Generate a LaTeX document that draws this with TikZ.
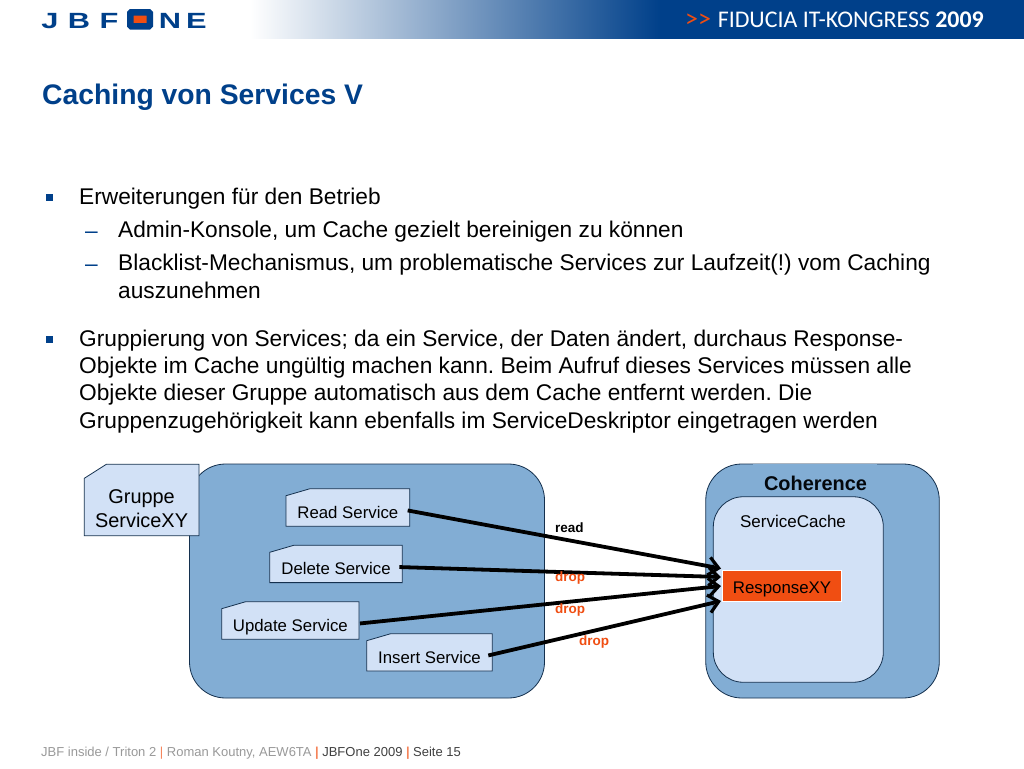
\documentclass[tikz,border=0pt]{standalone}
\usepackage{fontspec}
\setmainfont{Liberation Sans}
\newfontfamily\headfont{Carlito}
\newfontfamily\logofont[FakeStretch=1.4]{Liberation Sans}
\usetikzlibrary{arrows.meta}
\definecolor{jbfblue}{HTML}{00408A}
\definecolor{areablue}{HTML}{82ADD4}
\definecolor{paleblue}{HTML}{D2E1F6}
\definecolor{edgeblue}{HTML}{14304E}
\definecolor{jbforange}{HTML}{F04E12}
\pgfdeclarehorizontalshading{bandshade}{100bp}{color(0bp)=(white); color(25bp)=(white); color(51.5bp)=(jbfblue); color(100bp)=(jbfblue)}
\tikzset{
    servicebox/.style={draw=edgeblue, line width=0.8pt, fill=paleblue},
    service/.style={anchor=north, inner sep=0pt, outer sep=0pt, text height=29.5pt, text depth=8pt,
        font=\fontsize{16.8}{20}\selectfont},
    area/.style={rectangle, draw=edgeblue, line width=0.8pt, rounded corners=36pt, fill=areablue},
    callarrow/.style={line width=3.8pt, -{Straight Barb[length=10pt,width=18pt,line width=3.2pt]}},
    body/.style={anchor=north west, align=left, inner sep=0pt, font=\fontsize{22.7}{27.4}\selectfont},
    dashmark/.style={anchor=base west, inner sep=0pt, text=jbfblue, font=\fontsize{22.7}{27.4}\selectfont},
    label/.style={anchor=base west, font=\fontsize{13.5}{16}\selectfont\bfseries, inner sep=0pt},
    foot/.style={anchor=base west, inner sep=0pt, font=\fontsize{13}{16}\selectfont}
}
\newcommand{\footbar}{\kern3.5pt\textcolor{jbforange!70}{\textbf{|}}\kern3.5pt}
\frenchspacing
\begin{document}
\begin{tikzpicture}[x=1pt, y=-1pt]
    \useasboundingbox (0,0) rectangle (1024,768);
    \fill[white] (0,0) rectangle (1024,768);

    % Header band
    \shade[shading=bandshade] (250,0) rectangle (1024,38.5);
    \node[font=\headfont\fontsize{26}{28}\selectfont, text=jbforange, anchor=base west, inner sep=0pt] (headmark) at (685,28) {>>};
    \node[font=\headfont\fontsize{23.9}{28}\selectfont, text=white, anchor=base east, inner sep=0pt] (headtext) at (984,28) {FIDUCIA IT-KONGRESS \textbf{2009}};

    % Logo
    \foreach \c/\x in {J/50,B/79,F/109,N/170,E/196.5} {
        \node[font=\logofont\fontsize{22}{24}\selectfont\bfseries, text=jbfblue, inner sep=0pt, anchor=base] (logo\c) at (\x,29) {\c};
    }
    \node[draw=jbfblue, line width=6.5pt, rounded corners=1pt, fill=jbforange, minimum width=19.5pt, minimum height=14pt, inner sep=0pt] (logoO) at (140,19.3) {};

    % Title
    \node[anchor=base west, inner sep=0pt, text=jbfblue, font=\fontsize{28.3}{30}\selectfont\bfseries] (title) at (42,104) {Caching von Services V};

    % Bullets
    \foreach \y in {197,339} {
        \fill[jbfblue] (46,\y-3.5) rectangle (53,\y+3.5);
    }
    \node[dashmark] (dasha) at (85,238) {–};
    \node[dashmark] (dashb) at (85,271) {–};

    % Text
    \node[body] (first) at (79,188) {Erweiterungen für den Betrieb};
    \node[body] (second) at (118,221) {Admin-Konsole, um Cache gezielt bereinigen zu können};
    \node[body] (third) at (118,254) {Blacklist-Mechanismus, um problematische Services zur Laufzeit(!) vom Caching\\auszunehmen};
    \node[body] (fourth) at (79,329.5) {Gruppierung von Services; da ein Service, der Daten ändert, durchaus Response-\\Objekte im Cache ungültig machen kann. Beim Aufruf dieses Services müssen alle\\Objekte dieser Gruppe automatisch aus dem Cache entfernt werden. Die\\Gruppenzugehörigkeit kann ebenfalls im ServiceDeskriptor eingetragen werden};

    % Areas
    \node[area, minimum width=355pt, minimum height=234pt] (servicearea) at (367,581) {};
    \node[area, minimum width=233.5pt, minimum height=234pt] (coherence) at (822.5,581) {};
    \node[fill=areablue, minimum width=124pt, minimum height=30pt, inner sep=0pt] (coherencelabel) at (815,479) {};
    \node[font=\fontsize{19.9}{22}\selectfont\bfseries, text=black!85!edgeblue, inner sep=0pt] (coherencetext) at (815.5,483) {Coherence};
    \node[area, fill=paleblue, rounded corners=30pt, minimum width=170pt, minimum height=185.5pt] (cache) at (798.3,589.5) {};
    \node[font=\fontsize{17}{19}\selectfont, inner sep=0pt] (cachetext) at (793,521) {ServiceCache};
    \node[fill=jbforange, draw=white, line width=0.8pt, minimum width=119.5pt, text height=23pt, text depth=8pt, inner sep=0pt, font=\fontsize{16.85}{19}\selectfont] (response) at (782,585.5) {ResponseXY};

    % Services
    \foreach \name/\l/\t/\r/\b/\txt in {read/286/488.7/409.7/526.3/Read Service,
            delete/269.7/545.3/402.3/582.6/Delete Service,
            update/221.7/601.7/359/639.3/Update Service,
            insert/366.7/633.7/492.3/671/Insert Service} {
        \draw[servicebox] (\l+24,\t) -- (\r,\t) -- (\r,\b) -- (\l,\b) -- (\l,\t+7) -- cycle;
        \node[service, minimum width={(\r-\l)*1pt}] (\name) at ({(\l+\r)/2},\t) {\txt};
    }
    \draw[servicebox] (106.3,464.3) -- (199,464.3) -- (199,535.7) -- (84.3,535.7) -- (84.3,478.3) -- cycle;
    \node[inner sep=0pt, align=center, font=\fontsize{19.9}{23.5}\selectfont] (gruppe) at (141.6,508.5) {Gruppe\\ServiceXY};

    % Arrow ends
    \coordinate (readin) at (721,568.5);
    \coordinate (deletein) at (721,577);
    \coordinate (updatein) at (721,586);
    \coordinate (insertin) at (721,601);

    % Arrows
    \draw[callarrow] ([xshift=-2pt,yshift=-3pt]read.east) -- (readin);
    \draw[callarrow] ([xshift=-3pt,yshift=-3pt]delete.east) -- (deletein);
    \draw[callarrow] ([xshift=1pt,yshift=-3pt]update.east) -- (updatein);
    \draw[callarrow] ([xshift=-4pt,yshift=-3pt]insert.east) -- (insertin);

    % Labels
    \node[label] (readlabel) at (555,532.7) {read};
    \node[label, text=jbforange] (droplabela) at (555,581.5) {drop};
    \node[label, text=jbforange] (droplabelb) at (555,613.5) {drop};
    \node[label, text=jbforange] (droplabelc) at (579,645.5) {drop};

    % Footer
    \node[foot, text=black!40] (footera) at (41,756) {JBF inside / Triton 2 \textcolor{jbforange!70}{|} Roman Koutny, AEW6TA\footbar\textcolor{black!75}{JBFOne 2009}\footbar\textcolor{black!75}{Seite 15}};
\end{tikzpicture}
\end{document}
